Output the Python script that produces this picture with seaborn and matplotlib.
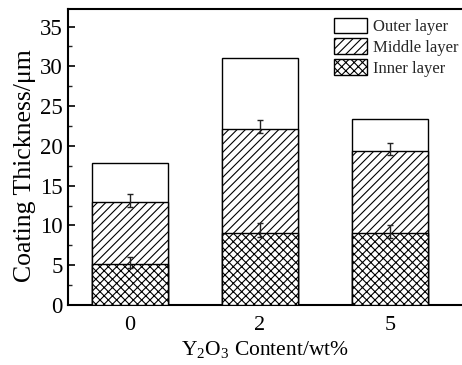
import matplotlib
matplotlib.use("Agg")
import matplotlib.pyplot as plt
import seaborn as sns
import pandas as pd
from matplotlib.ticker import MultipleLocator

# Data
categories = ["0", "2", "5"]
inner = [5.2, 9.1, 9.0]
middle_top = [12.9, 22.1, 19.4]
outer_top = [17.9, 31.1, 23.4]
inner_err_low = [0.6, 0.6, 0.6]
inner_err_high = [0.8, 1.2, 1.0]
middle_err_low = [0.6, 0.5, 0.5]
middle_err_high = [1.0, 1.2, 1.0]
legend_labels = ["Outer layer", "Middle layer", "Inner layer"]

sns.set_theme(style="ticks")
plt.rcParams['font.family'] = ['Liberation Serif', 'DejaVu Serif']
plt.rcParams['hatch.linewidth'] = 0.8
plt.rcParams['mathtext.fontset'] = 'custom'
plt.rcParams['mathtext.rm'] = 'Liberation Serif'

df = pd.DataFrame({"cat": categories, "inner": inner,
                   "middle": middle_top, "outer": outer_top})

fig = plt.figure(figsize=(4.62, 3.65), dpi=100)
ax = fig.add_axes([68/462, 60/365, 1 - 68/462, 296/365])

w = 0.59
sns.barplot(data=df, x="cat", y="outer", color="white", edgecolor="black",
            linewidth=1.0, width=w, ax=ax, label=legend_labels[0], zorder=2)
sns.barplot(data=df, x="cat", y="middle", color="white", edgecolor="black",
            linewidth=1.0, width=w, hatch="////", ax=ax, label=legend_labels[1], zorder=3)
sns.barplot(data=df, x="cat", y="inner", color="white", edgecolor="black",
            linewidth=1.0, width=w, hatch="xxxx", ax=ax, label=legend_labels[2], zorder=4)

xpos = list(range(len(categories)))
ax.errorbar(xpos, inner, yerr=[inner_err_low, inner_err_high], fmt="none",
            ecolor="#222222", elinewidth=1.0, capsize=2.5, capthick=1.0, zorder=6)
ax.errorbar(xpos, middle_top, yerr=[middle_err_low, middle_err_high], fmt="none",
            ecolor="#222222", elinewidth=1.0, capsize=2.5, capthick=1.0, zorder=6)

ax.set_xlim(-0.477, 2.554)
ax.set_ylim(0, 37.2)
ax.yaxis.set_major_locator(MultipleLocator(5))
ax.yaxis.set_minor_locator(MultipleLocator(2.5))
ax.tick_params(axis="y", which="major", direction="in", length=5, width=1.2,
               labelsize=16.5, pad=4, colors="black")
ax.tick_params(axis="y", which="minor", direction="in", length=3, width=1.0)
ax.tick_params(axis="x", length=0, labelsize=16, pad=8, colors="black")

for s in ["left", "bottom", "top"]:
    ax.spines[s].set_linewidth(1.5)
    ax.spines[s].set_color("black")
ax.spines["right"].set_visible(False)

ax.set_ylabel("Coating Thickness/\u03bcm", fontsize=18.5, color="black")
ax.yaxis.set_label_coords(-0.08, 0.47)
ax.set_xlabel("Y$_2$O$_3$ Content/wt%", fontsize=15.5, labelpad=3, color="black")

handles, labels = ax.get_legend_handles_labels()
ax.legend(handles, labels, loc="upper left", bbox_to_anchor=(0.645, 1.01),
          frameon=False, fontsize=12, handlelength=2.0, handleheight=1.05,
          handletextpad=0.35, labelspacing=0.2, borderaxespad=0.3)

fig.savefig("out.png", dpi=100)
